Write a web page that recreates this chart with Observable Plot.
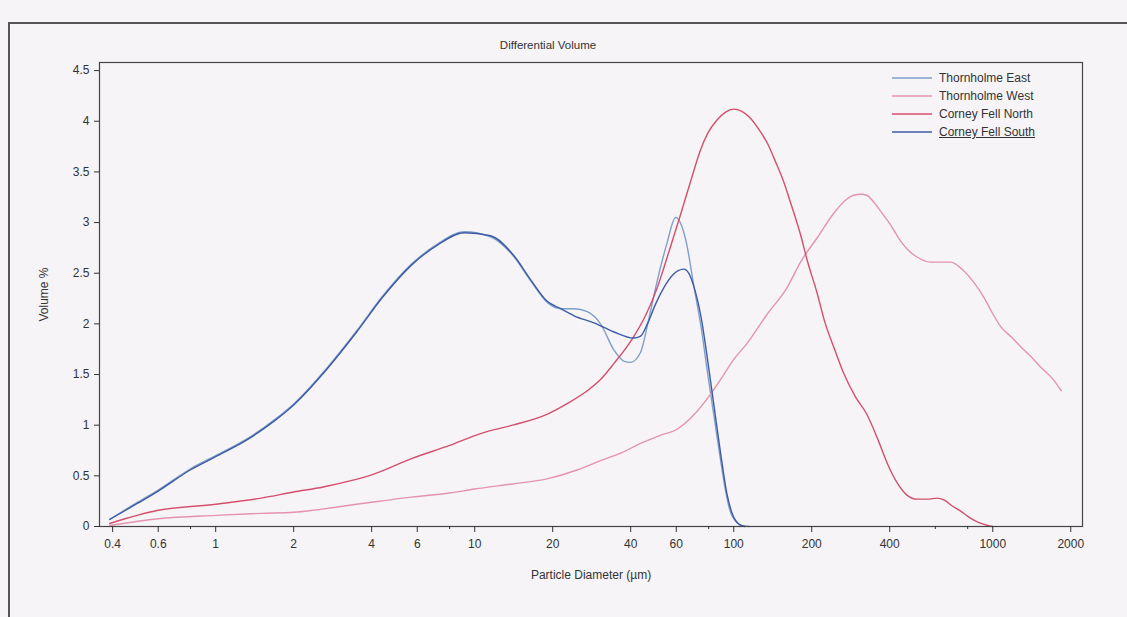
<!DOCTYPE html>
<html>
<head>
<meta charset="utf-8">
<script src="https://cdn.jsdelivr.net/npm/d3@7"></script>
<script src="https://cdn.jsdelivr.net/npm/@observablehq/plot@0.6"></script>
<style>
  html, body { margin: 0; padding: 0; background: #f6f4f7; }
  #wrap { position: relative; width: 1127px; height: 617px; overflow: hidden; font-family: "Liberation Sans", Arial, sans-serif; color: #333; }
  #border { position: absolute; left: 8px; top: 22px; width: 1200px; height: 700px; border-top: 2px solid #555; border-left: 2px solid #555; box-sizing: border-box; }
  #title { position: absolute; top: 39px; left: 0; width: 1096px; text-align: center; font-size: 11.5px; color: #333; }
  #legend { position: absolute; left: 892px; top: 69px; font-size: 12px; color: #333; }
  #legend .row { display: flex; align-items: center; height: 18px; }
  #legend svg { margin-right: 7px; }
  #chart { position: absolute; left: 0; top: 0; }
</style>
</head>
<body>
<div id="wrap">
  <div id="border"></div>
  <div id="chart"></div>
  <div id="title">Differential Volume</div>
  <div id="legend"></div>
</div>
<script>
// ---- Data ----
const seriesNames = ["Thornholme East", "Thornholme West", "Corney Fell North", "Corney Fell South"];
const seriesColors = ["#7f9fc8", "#e593ad", "#d44f6e", "#3e5ca6"];

const xTicks = [0.4, 0.6, 1, 2, 4, 6, 10, 20, 40, 60, 100, 200, 400, 1000, 2000];
const xMinorTicks = [0.8, 8, 80, 600, 800];
const yTicks = [0, 0.5, 1, 1.5, 2, 2.5, 3, 3.5, 4, 4.5];

// Thornholme East
const eastX = [0.39, 0.5, 0.6, 0.8, 1.0, 1.33, 1.68, 2.0, 2.7, 3.5, 4.4, 5.7, 7.2, 9.1, 11.5, 14.2, 16.4, 19.1, 21.5, 24.2, 27.2, 30.6, 34.5, 37.8, 40, 43.7, 47, 50.7, 55, 59.7, 65.4, 70.3, 75, 79.3, 84, 89, 93, 97.5, 102, 107, 115];
const eastY = [0.07, 0.24, 0.36, 0.57, 0.70, 0.87, 1.05, 1.21, 1.57, 1.93, 2.27, 2.59, 2.79, 2.91, 2.86, 2.66, 2.43, 2.21, 2.15, 2.15, 2.12, 2.0, 1.74, 1.63, 1.62, 1.72, 2.05, 2.43, 2.78, 3.05, 2.82, 2.36, 1.95, 1.51, 1.08, 0.65, 0.35, 0.13, 0.05, 0.01, 0];

// Corney Fell South
const southX = [0.39, 0.5, 0.6, 0.8, 1.0, 1.33, 1.68, 2.0, 2.7, 3.5, 4.4, 5.7, 7.2, 9.1, 11.5, 14.2, 16.4, 19.1, 21.5, 24.2, 28.9, 34.5, 41, 43.7, 46.4, 50, 53.8, 58, 64.2, 67, 70.3, 75, 79.3, 84, 89, 94, 100, 104, 110];
const southY = [0.07, 0.23, 0.35, 0.56, 0.69, 0.86, 1.04, 1.20, 1.56, 1.92, 2.26, 2.58, 2.78, 2.90, 2.87, 2.67, 2.44, 2.22, 2.15, 2.08, 2.01, 1.92, 1.86, 1.88, 2.0, 2.2, 2.36, 2.48, 2.54, 2.5, 2.36, 2.05, 1.64, 1.18, 0.72, 0.33, 0.09, 0.03, 0];

// Corney Fell North
const northX = [0.39, 0.6, 1.0, 1.5, 2.0, 2.6, 3.3, 4.1, 5.7, 8, 10.6, 14, 19.1, 23, 27.2, 30.6, 34.5, 41, 46, 50.7, 56, 62.5, 68.4, 74, 79.3, 86, 93, 100, 107, 115, 125, 135, 145, 155, 166, 182, 192, 210, 224, 245, 266, 295, 326, 360, 392, 430, 466, 510, 560, 610, 650, 700, 754, 800, 849, 900, 957, 1000];
const northY = [0.03, 0.16, 0.22, 0.28, 0.34, 0.39, 0.45, 0.52, 0.67, 0.80, 0.92, 1.0, 1.11, 1.22, 1.34, 1.45, 1.61, 1.87, 2.1, 2.36, 2.7, 3.09, 3.42, 3.70, 3.88, 4.01, 4.09, 4.12, 4.10, 4.04, 3.92, 3.78, 3.60, 3.42, 3.19, 2.86, 2.63, 2.3, 2.03, 1.75, 1.51, 1.28, 1.11, 0.86, 0.62, 0.42, 0.31, 0.27, 0.27, 0.28, 0.26, 0.2, 0.15, 0.1, 0.06, 0.03, 0.01, 0];

// Thornholme West
const westX = [0.39, 0.6, 1.0, 1.5, 2.0, 3.5, 5.7, 8, 10, 14, 19, 25, 30.6, 37, 43.7, 52, 60.5, 70, 81, 90, 100, 112, 135, 160, 182, 210, 243, 270, 290, 310, 326, 345, 367, 400, 440, 475, 510, 574, 630, 688, 768, 850, 925, 1000, 1075, 1180, 1287, 1400, 1535, 1700, 1838];
const westY = [0.01, 0.076, 0.11, 0.13, 0.14, 0.22, 0.29, 0.33, 0.37, 0.42, 0.47, 0.56, 0.65, 0.73, 0.82, 0.90, 0.96, 1.1, 1.3, 1.47, 1.65, 1.8, 2.1, 2.35, 2.62, 2.85, 3.09, 3.22, 3.27, 3.28, 3.27, 3.21, 3.12, 2.99, 2.82, 2.72, 2.66, 2.61, 2.61, 2.61, 2.53, 2.4, 2.26, 2.1, 1.97, 1.87, 1.77, 1.68, 1.57, 1.46, 1.34];

// ---- Build tidy table ----
const seriesData = {
  "Thornholme East": [eastX, eastY],
  "Thornholme West": [westX, westY],
  "Corney Fell North": [northX, northY],
  "Corney Fell South": [southX, southY]
};
const rows = [];
for (const name of seriesNames) {
  const [xs, ys] = seriesData[name];
  xs.forEach((x, i) => rows.push({series: name, x, y: ys[i]}));
}

const noLabel = () => "";

const chart = Plot.plot({
  width: 1127,
  height: 617,
  marginLeft: 99,
  marginRight: 45,
  marginTop: 62,
  marginBottom: 91,
  style: {fontFamily: "'Liberation Sans', Arial, sans-serif", fontSize: "12px", background: "transparent", color: "#333"},
  x: {type: "log", domain: [0.356, 2220]},
  y: {domain: [0, 4.58]},
  color: {domain: seriesNames, range: seriesColors},
  marks: [
    Plot.line(rows, {x: "x", y: "y", z: "series", stroke: "series", strokeWidth: 1.4, curve: "monotone-x"}),
    Plot.frame({stroke: "#444", strokeWidth: 1.2}),
    Plot.axisX({ticks: xTicks, tickFormat: noLabel, tickSize: 6,
      label: "Particle Diameter (µm)", labelAnchor: "center", labelArrow: "none", labelOffset: 52}),
    Plot.text(xTicks, {x: d => d, frameAnchor: "bottom", dy: 21, text: d => String(d), fill: "#333", fontSize: 12}),
    Plot.axisX({ticks: xMinorTicks, tickFormat: noLabel, tickSize: 3, label: null}),
    Plot.axisY({ticks: yTicks, tickFormat: d => String(d), tickSize: 5, tickPadding: 5,
      label: "Volume %", labelAnchor: "center", labelArrow: "none", labelOffset: 60})
  ]
});
document.getElementById("chart").appendChild(chart);

// ---- Legend ----
const legend = document.getElementById("legend");
seriesNames.forEach((name, i) => {
  const row = document.createElement("div");
  row.className = "row";
  row.innerHTML = `<svg width="40" height="4"><line x1="0" y1="2" x2="40" y2="2" stroke="${seriesColors[i]}" stroke-width="1.5"/></svg><span${i === 3 ? ' style="text-decoration: underline"' : ''}>${name}</span>`;
  legend.appendChild(row);
});
</script>
</body>
</html>
